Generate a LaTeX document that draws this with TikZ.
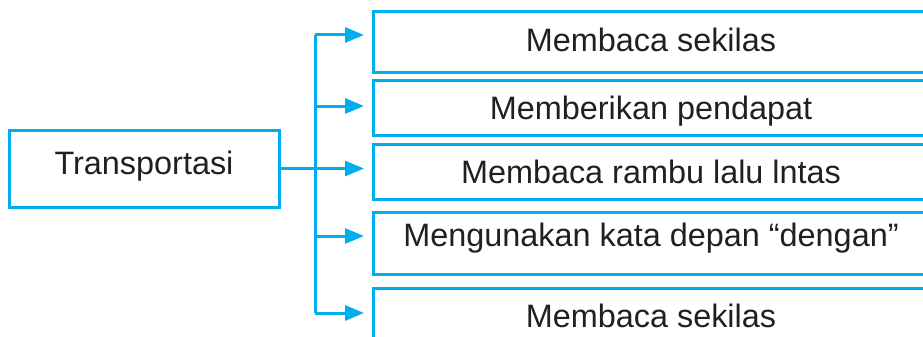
\documentclass[tikz,border=0pt]{standalone}
\usepackage{fontspec}
\setmainfont{Liberation Sans}
\usetikzlibrary{arrows.meta}
\definecolor{biru}{HTML}{00AEEF}
\definecolor{tinta}{HTML}{231F20}
\tikzset{
  kotak/.style={draw=biru, line width=3pt, inner sep=0pt, text=tinta,
    font=\fontsize{32.4}{36}\selectfont, text height=23.2pt},
  isi/.style={kotak, minimum width=555pt},
  garis/.style={draw=biru, line width=3pt},
}
\begin{document}
\begin{tikzpicture}[x=1pt, y=-1pt, >={Triangle[length=19pt,width=15pt]}]
    \useasboundingbox (0,0) rectangle (923,337);
    \clip (0,0) rectangle (923,337);
    \node[kotak, minimum width=270pt, minimum height=77pt, text depth=11pt] (trans) at (144,168.5) {Transportasi};
    \node[isi, minimum height=60pt, text depth=4pt] (b1) at (651,42) {Membaca sekilas};
    \node[isi, minimum height=55pt, text depth=0pt] (b2) at (651,107.5) {Memberikan pendapat};
    \node[isi, minimum height=55pt, text depth=0pt] (b3) at (651,171.5) {Membaca rambu lalu lntas};
    \node[isi, minimum height=62pt, text depth=17pt] (b4) at (651,243) {Mengunakan kata depan ``dengan''};
    \node[isi, minimum height=60pt, text depth=5pt] (b5) at (651,318) {Membaca sekilas};
    \coordinate (atas) at (315,35);
    \coordinate (bawah) at (315,313);
    \draw[garis] (atas) -- (bawah);
    \draw[garis,->,shorten >=8pt] (trans.east) -- (trans.east -| b3.west);
    \foreach \y/\b in {35/b1, 106/b2, 236/b4, 313/b5}
        \draw[garis,->,shorten >=8pt] (315,\y) -- (315,\y -| \b.west);
\end{tikzpicture}
\end{document}
